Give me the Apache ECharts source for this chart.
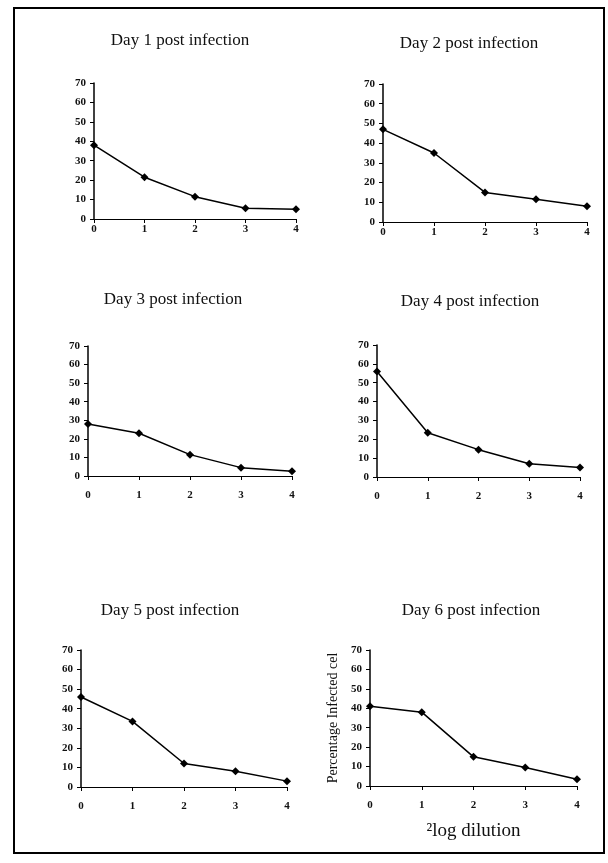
<!DOCTYPE html>
<html>
<head>
<meta charset="utf-8">
<script src="https://cdn.jsdelivr.net/npm/echarts@6/dist/echarts.min.js"></script>
<style>
  html, body { margin: 0; padding: 0; background: #fff; }
  #chart { width: 608px; height: 863px; }
</style>
</head>
<body>
<div id="chart"></div>
<script>
// x values (2log dilution) and % infected cells per day
var dilution = [0, 1, 2, 3, 4];
var day1 = [38, 21.5, 11.5, 5.5, 5];
var day2 = [47, 35, 15, 11.5, 8];
var day3 = [28, 23, 11.5, 4.5, 2.5];
var day4 = [56, 23.5, 14.5, 7, 5];
var day5 = [46, 33.5, 12, 8, 3];
var day6 = [41, 38, 15, 9.5, 3.5];
var titles = ['Day 1 post infection', 'Day 2 post infection', 'Day 3 post infection',
              'Day 4 post infection', 'Day 5 post infection', 'Day 6 post infection'];
var yName = 'Percentage Infected cel';
var xName = '\u00B2log dilution';

var days = [day1, day2, day3, day4, day5, day6];

// panel boxes [left, top, width, height], title position, x label gap
var boxes = [
  [94, 83, 202, 136],
  [383, 84, 204, 138],
  [88, 346, 204, 130],
  [377, 345, 203, 132],
  [81, 650, 206, 137],
  [370, 650, 207, 136]
];
var titlePos = [[175, 27], [464, 30], [168, 286], [465, 288], [165, 597], [466, 597]];
var xLabelGap = [5, 5, 14, 14, 14, 14];

var font = 'Liberation Serif';
var myChart = echarts.init(document.getElementById('chart'));

var grid = [], xAxis = [], yAxis = [], series = [], title = [];
boxes.forEach(function (b, i) {
  grid.push({ left: b[0], top: b[1], width: b[2], height: b[3] });
  title.push({
    text: titles[i], left: titlePos[i][0], top: titlePos[i][1], textAlign: 'center',
    textStyle: { fontFamily: font, fontSize: 17, fontWeight: 'normal', color: '#111' }
  });
  xAxis.push({
    gridIndex: i, type: 'value', min: 0, max: 4, interval: 1,
    name: i === 5 ? xName : '', nameLocation: 'middle', nameGap: 36,
    nameTextStyle: { fontFamily: font, fontSize: 19, color: '#111' },
    axisLine: { lineStyle: { color: '#000', width: 1.2 } },
    axisTick: { length: 4, lineStyle: { color: '#000' } },
    axisLabel: { fontFamily: font, fontSize: 11, fontWeight: 'bold', color: '#111', margin: xLabelGap[i] },
    splitLine: { show: false }
  });
  yAxis.push({
    gridIndex: i, type: 'value', min: 0, max: 70, interval: 10,
    name: i === 5 ? yName : '', nameLocation: 'middle', nameGap: 30, nameRotate: 90,
    nameTextStyle: { fontFamily: font, fontSize: 14, color: '#111' },
    axisLine: { show: true, lineStyle: { color: '#000', width: 1.5 } },
    axisTick: { show: true, length: 4, lineStyle: { color: '#000' } },
    axisLabel: { fontFamily: font, fontSize: 11, fontWeight: 'bold', color: '#111', margin: 8 },
    splitLine: { show: false }
  });
  series.push({
    type: 'line', xAxisIndex: i, yAxisIndex: i,
    data: dilution.map(function (x, k) { return [x, days[i][k]]; }),
    symbol: 'diamond', symbolSize: 8,
    lineStyle: { color: '#000', width: 1.5 },
    itemStyle: { color: '#000' },
    animation: false
  });
});

var option = {
  backgroundColor: '#fff',
  animation: false,
  title: title,
  grid: grid,
  xAxis: xAxis,
  yAxis: yAxis,
  series: series,
  graphic: [{
    type: 'rect',
    shape: { x: 14, y: 8, width: 590, height: 845 },
    style: { fill: 'none', stroke: '#000', lineWidth: 2 },
    silent: true
  }]
};
myChart.setOption(option);
</script>
</body>
</html>
